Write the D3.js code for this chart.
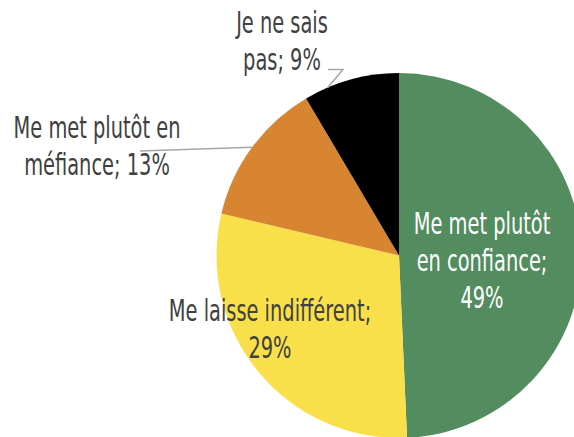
<!DOCTYPE html>
<html>
<head>
<meta charset="utf-8">
<script src="https://cdn.jsdelivr.net/npm/d3@7"></script>
<style>
  body { margin: 0; background: #fff; }
</style>
</head>
<body>
<div id="pie_chart"></div>
<script>
// slice data (percent)
const categories = ["Me met plutôt en confiance", "Me laisse indifférent", "Me met plutôt en méfiance", "Je ne sais pas"];
const values = [49.3, 29.4, 12.8, 8.5];
const colors = ["#528c5f", "#f9df4a", "#d88532", "#000000"];

// label lines as shown in the chart
const labelLines = [
    ["Me met plutôt", "en confiance;", "49%"],
    ["Me laisse indifférent;", "29%"],
    ["Me met plutôt en", "méfiance; 13%"],
    ["Je ne sais", "pas; 9%"]
];

const canvWidth = 574, canvHeight = 437;
const cx = 399, cy = 255.5, radius = 182.5;
const fontFamily = '"DejaVu Sans Condensed", "Liberation Sans Narrow", sans-serif';
const fontSize = 31;
const lineH = 37;

const svg = d3.select('#pie_chart')
    .append('svg')
    .attr('width', canvWidth)
    .attr('height', canvHeight);

const pieG = svg.append('g')
    .attr('transform', `translate(${cx},${cy})`);

const pie = d3.pie().sort(null).value(d => d);
const arc = d3.arc().innerRadius(0).outerRadius(radius);
const arcs = pie(values);

pieG.selectAll('path')
    .data(arcs)
    .enter()
    .append('path')
    .attr('d', arc)
    .style('fill', (d, i) => colors[i]);

// the original uses a very narrow font: squeeze horizontally so that
// "Me met plutôt en" is about 167px wide
const probe = svg.append('text')
    .attr('font-family', fontFamily)
    .style('font-size', fontSize + 'px')
    .text("Me met plutôt en");
const sx = 167 / probe.node().getComputedTextLength();
probe.remove();

// label placement (text block centre, relative to pie centre)
const labelPos = [
    {x: 83, y: 5, fill: "#ffffff"},
    {x: -129, y: 73, fill: "#404040"},
    {x: -302, y: -110, fill: "#404040"},
    {x: -117, y: -215, fill: "#404040"}
];

labelLines.forEach(function (lines, i) {
    const p = labelPos[i];
    const g = pieG.append('g')
        .attr('transform', `translate(${p.x},${p.y}) scale(${sx},1)`);
    const top = -((lines.length - 1) * lineH) / 2;
    lines.forEach(function (t, j) {
        g.append('text')
            .attr('x', 0)
            .attr('y', top + j * lineH)
            .attr('dy', '0.35em')
            .attr('font-family', fontFamily)
            .style('font-size', fontSize + 'px')
            .style('text-anchor', 'middle')
            .style('fill', p.fill)
            .text(t);
    });
});

// leader lines for the two outside labels
function edgePoint(a) {
    return [Math.sin(a) * radius, -Math.cos(a) * radius];
}
const orangeA = arcs[2].startAngle + (arcs[2].endAngle - arcs[2].startAngle) * 0.5;
const blackA = arcs[3].startAngle + (arcs[3].endAngle - arcs[3].startAngle) * 0.25;
const leaders = [
    [[-259, -104.5], edgePoint(orangeA)],
    [[-71, -186], [-56, -186], edgePoint(blackA)]
];
pieG.selectAll('.leader')
    .data(leaders)
    .enter()
    .append('path')
    .attr('class', 'leader')
    .attr('d', d => d3.line()(d))
    .attr('fill', 'none')
    .attr('stroke', '#a6a6a6')
    .attr('stroke-width', 1.5);
</script>
</body>
</html>
